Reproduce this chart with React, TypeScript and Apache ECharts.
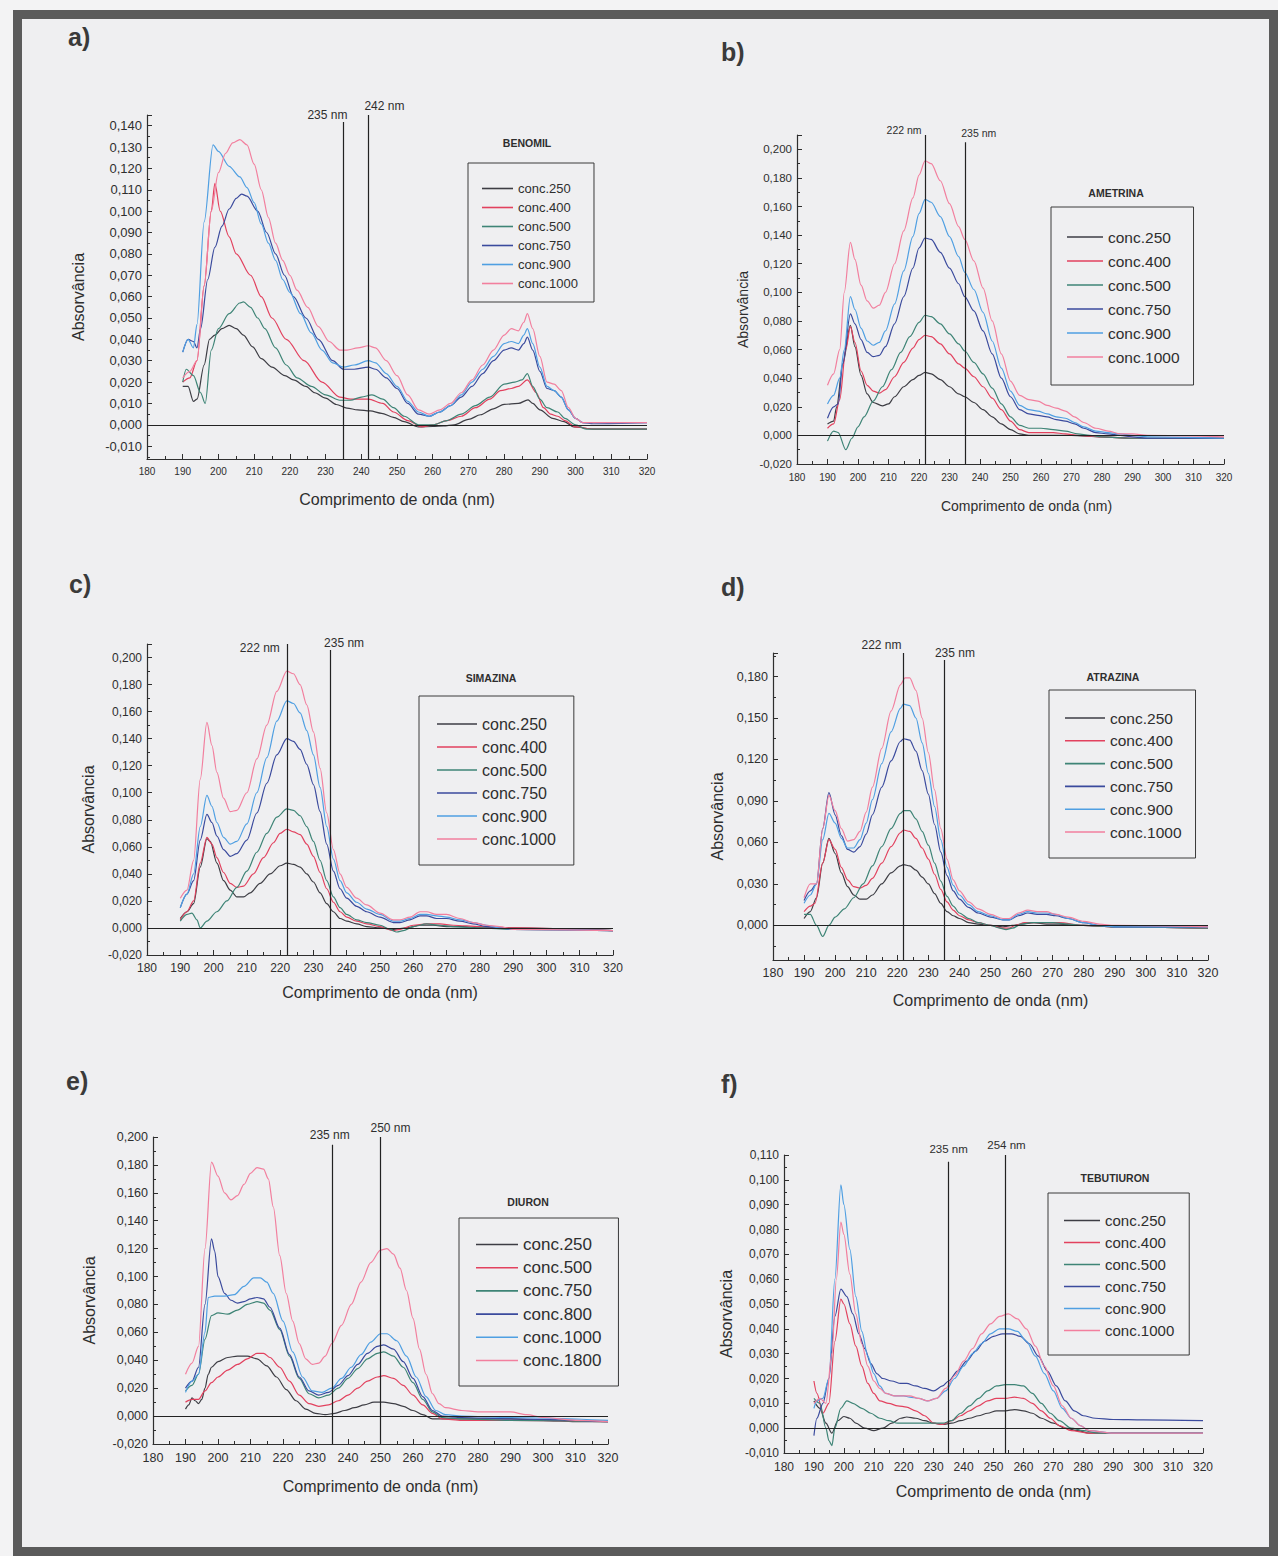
import React, { useEffect, useRef } from 'react';
import * as echarts from 'echarts';

// ---------------- DATA ----------------
const CONC_STD = ['conc.250', 'conc.400', 'conc.500', 'conc.750', 'conc.900', 'conc.1000'];
const CONC_DIURON = ['conc.250', 'conc.500', 'conc.750', 'conc.800', 'conc.1000', 'conc.1800'];
const X_RANGE = [180, 320];
const X_STEP = 10;

// a) BENOMIL
const benomil250 = [[190,0.018],[191.5,0.018],[193,0.011],[194,0.012],[196,0.028],[197.5,0.040],[199,0.042],[201,0.045],[203,0.0465],[205,0.045],[207,0.042],[209.6,0.0365],[212,0.031],[215,0.027],[218.6,0.023],[221,0.021],[224.5,0.018],[227,0.015],[230,0.0125],[233,0.0095],[236,0.0078],[239,0.007],[242.5,0.0065],[245.7,0.0054],[249,0.0035],[252,0.0015],[256,-0.001],[260,-0.0008],[263,-0.0005],[266,0],[270,0.0025],[273.4,0.0047],[277,0.0075],[280,0.0096],[284,0.010],[286.7,0.0117],[288,0.010],[290,0.007],[293.6,0.003],[296.8,0.0015],[299.5,-0.001],[305,-0.002],[320,-0.002]];
const benomil400 = [[190,0.020],[192,0.022],[194,0.030],[196,0.065],[198,0.100],[199,0.113],[200.5,0.100],[203,0.088],[205,0.080],[209,0.070],[212,0.060],[215,0.050],[219,0.040],[224,0.030],[229,0.020],[234,0.013],[237,0.012],[242,0.012],[246,0.010],[249,0.006],[253,0.002],[257,-0.001],[260,0],[264,0.002],[268,0.004],[272,0.008],[276,0.012],[279,0.016],[282,0.017],[284,0.018],[286.5,0.021],[289,0.015],[291,0.008],[293,0.005],[295,0.004],[297,0.002],[300,-0.001],[305,-0.002],[320,-0.002]];
const benomil500 = [[190,0.020],[191,0.026],[193,0.023],[195,0.015],[196.3,0.010],[198,0.035],[200,0.045],[203,0.052],[206,0.057],[207,0.0575],[209,0.055],[211,0.050],[213,0.045],[216,0.036],[219,0.028],[222,0.022],[226,0.018],[230,0.014],[234,0.0115],[237,0.0115],[240,0.013],[243,0.014],[246,0.012],[249,0.008],[252,0.004],[256,0],[260,0],[264,0.002],[268,0.005],[272,0.009],[276,0.013],[280,0.019],[283,0.020],[285,0.021],[286.5,0.024],[288,0.018],[290,0.012],[292,0.008],[295,0.006],[297,0.003],[300,0],[303,-0.002],[320,-0.002]];
const benomil750 = [[190,0.034],[191.5,0.040],[193,0.039],[194,0.036],[195,0.045],[197,0.068],[199,0.083],[201,0.093],[203,0.101],[205,0.106],[206.5,0.108],[208,0.107],[211,0.100],[213.5,0.090],[216,0.080],[218.5,0.070],[221,0.060],[224.5,0.050],[228,0.040],[232,0.030],[235,0.026],[238,0.026],[242,0.027],[244,0.026],[247,0.022],[250,0.017],[253,0.010],[256,0.005],[259,0.004],[262,0.006],[265,0.009],[268,0.013],[271,0.018],[274,0.024],[277,0.030],[280,0.035],[282,0.036],[284,0.035],[285.5,0.038],[286.5,0.041],[288,0.035],[290,0.025],[292,0.017],[294,0.016],[296,0.013],[298,0.007],[300,0.003],[302,0.001],[305,0.0005],[320,0.001]];
const benomil900 = [[190,0.034],[191.5,0.040],[193,0.036],[194,0.047],[196,0.095],[198.5,0.131],[200,0.128],[203,0.121],[206,0.116],[208,0.111],[210,0.104],[212,0.094],[214,0.085],[216,0.077],[218,0.068],[220,0.062],[223,0.052],[226,0.043],[229,0.035],[232,0.029],[235,0.027],[238,0.028],[242,0.030],[244,0.029],[247,0.024],[250,0.018],[253,0.011],[256,0.006],[259,0.004],[262,0.006],[265,0.009],[268,0.014],[271,0.020],[274,0.026],[277,0.032],[280,0.038],[282,0.039],[284,0.038],[285.5,0.042],[286.5,0.045],[288,0.038],[290,0.027],[292,0.018],[294,0.016],[296,0.013],[298,0.007],[300,0.003],[302,0.001],[320,0.001]];
const benomil1000 = [[190,0.022],[192,0.025],[194,0.030],[196,0.065],[198,0.100],[200,0.118],[202,0.127],[204,0.132],[206,0.1335],[208,0.131],[210,0.122],[212,0.110],[214,0.097],[216,0.085],[218,0.077],[220,0.070],[222,0.063],[225,0.055],[228,0.046],[231,0.039],[234,0.035],[236,0.035],[239,0.036],[242,0.037],[244,0.036],[247,0.030],[250,0.023],[253,0.014],[256,0.007],[259,0.005],[262,0.007],[265,0.010],[268,0.015],[271,0.021],[274,0.028],[277,0.035],[280,0.042],[282,0.045],[284,0.044],[285.5,0.048],[286.5,0.052],[288,0.045],[290,0.032],[292,0.020],[294,0.019],[296,0.016],[298,0.008],[300,0.003],[302,0.001],[320,0.001]];
const benomilMarkers = [235, 242];

// b) AMETRINA
const ametrina250 = [[190,0.008],[192,0.010],[193,0.020],[195,0.050],[197.5,0.077],[199,0.062],[201,0.042],[203,0.029],[205,0.023],[208,0.0207],[210,0.022],[212,0.027],[215,0.034],[218,0.039],[220,0.042],[222,0.044],[224,0.043],[227,0.039],[230,0.034],[233,0.029],[235,0.027],[238,0.023],[241,0.018],[244,0.013],[247,0.008],[250,0.004],[253,0.001],[256,0],[262,0],[270,0],[280,-0.001],[290,-0.002],[320,-0.002]];
const ametrina400 = [[190,0.005],[192,0.008],[194,0.025],[196,0.060],[197.5,0.076],[199,0.065],[201,0.045],[203,0.035],[205,0.031],[207,0.0295],[209,0.032],[212,0.041],[215,0.051],[218,0.061],[220,0.067],[222,0.070],[224,0.069],[227,0.064],[230,0.057],[233,0.050],[235,0.047],[238,0.041],[241,0.034],[244,0.026],[247,0.018],[250,0.010],[253,0.004],[256,0.002],[264,0.002],[268,0.001],[272,0],[280,-0.001],[290,-0.002],[320,-0.002]];
const ametrina500 = [[190,-0.004],[192,0.003],[193.5,0.002],[196,-0.010],[198,-0.002],[200,0.006],[202,0.013],[205,0.024],[208,0.034],[211,0.046],[214,0.058],[217,0.069],[220,0.079],[222,0.084],[224,0.083],[227,0.078],[230,0.071],[233,0.064],[235,0.059],[238,0.051],[241,0.043],[244,0.033],[247,0.022],[250,0.013],[253,0.007],[256,0.005],[260,0.005],[264,0.004],[268,0.003],[272,0.001],[276,0],[280,-0.001],[290,-0.002],[320,-0.002]];
const ametrina750 = [[190,0.012],[192,0.020],[193.5,0.022],[195,0.050],[197.5,0.085],[199,0.078],[201,0.067],[203,0.058],[205,0.055],[207,0.056],[209,0.062],[212,0.078],[215,0.097],[218,0.117],[220,0.131],[222,0.138],[224,0.137],[227,0.128],[230,0.117],[233,0.106],[235,0.097],[238,0.087],[241,0.073],[244,0.057],[247,0.040],[250,0.027],[253,0.018],[256,0.015],[259,0.014],[262,0.013],[265,0.011],[268,0.010],[271,0.008],[274,0.005],[278,0.002],[282,0.001],[286,0],[290,-0.001],[295,-0.002],[320,-0.002]];
const ametrina900 = [[190,0.022],[192,0.028],[194,0.040],[195.5,0.060],[197.5,0.097],[199,0.088],[201,0.075],[203,0.066],[205,0.063],[207,0.065],[209,0.073],[212,0.092],[215,0.115],[218,0.139],[220,0.155],[222,0.165],[224,0.163],[227,0.153],[230,0.139],[233,0.125],[235,0.114],[238,0.102],[241,0.086],[244,0.066],[247,0.047],[250,0.031],[253,0.021],[256,0.018],[259,0.017],[262,0.015],[265,0.013],[268,0.012],[271,0.009],[274,0.006],[278,0.003],[282,0.002],[286,0.001],[290,0],[295,-0.001],[320,-0.002]];
const ametrina1000 = [[190,0.035],[192,0.043],[194,0.060],[195.5,0.100],[197.5,0.135],[199,0.123],[201,0.105],[203,0.094],[205,0.089],[207,0.091],[209,0.100],[212,0.120],[215,0.143],[218,0.166],[220,0.182],[222,0.192],[224,0.190],[227,0.178],[230,0.162],[233,0.146],[235,0.137],[238,0.122],[241,0.103],[244,0.080],[247,0.057],[250,0.038],[253,0.028],[256,0.025],[259,0.024],[262,0.021],[265,0.019],[268,0.017],[271,0.013],[274,0.009],[278,0.005],[282,0.003],[286,0.001],[290,0.001],[295,0],[320,-0.001]];
const ametrinaMarkers = [222, 235];

// c) SIMAZINA
const simazina250 = [[190,0.007],[192,0.012],[194,0.018],[196,0.045],[198,0.066],[199,0.064],[201,0.048],[203,0.035],[205,0.028],[207,0.023],[209,0.023],[211,0.026],[214,0.033],[217,0.040],[220,0.046],[222,0.048],[224,0.047],[226,0.045],[228,0.040],[230,0.034],[232,0.026],[234,0.018],[236,0.012],[238,0.007],[240,0.005],[243,0.003],[246,0.001],[250,0],[254,-0.001],[258,0],[262,0.002],[266,0.002],[270,0.001],[275,0.001],[280,0],[290,0],[320,-0.002]];
const simazina400 = [[190,0.006],[192,0.012],[194,0.020],[196,0.048],[198,0.067],[199.5,0.062],[201,0.052],[203,0.041],[205,0.033],[207,0.030],[209,0.031],[212,0.040],[215,0.052],[218,0.063],[220,0.070],[222,0.073],[224,0.071],[226,0.069],[228,0.062],[230,0.053],[232,0.041],[234,0.029],[236,0.019],[238,0.012],[240,0.008],[243,0.005],[246,0.003],[250,0.001],[254,-0.002],[256,-0.001],[260,0.002],[264,0.003],[268,0.003],[272,0.002],[280,0.001],[290,0],[320,-0.002]];
const simazina500 = [[190,0.005],[192,0.010],[193.5,0.011],[195,0.006],[196,0],[198,0.005],[201,0.012],[204,0.020],[207,0.030],[210,0.042],[213,0.056],[216,0.070],[219,0.082],[222,0.088],[224,0.087],[226,0.083],[228,0.075],[230,0.064],[232,0.050],[234,0.035],[236,0.023],[238,0.015],[240,0.010],[243,0.006],[246,0.004],[250,0.002],[253,-0.001],[255,-0.003],[257,-0.002],[260,0.001],[264,0.003],[268,0.002],[272,0.001],[280,0],[290,-0.001],[320,-0.002]];
const simazina750 = [[190,0.015],[192,0.025],[194,0.035],[196,0.065],[198,0.084],[199.5,0.078],[201,0.068],[203,0.058],[205,0.053],[207,0.055],[210,0.065],[213,0.085],[216,0.107],[219,0.128],[222,0.140],[224,0.138],[226,0.132],[228,0.121],[230,0.106],[232,0.086],[234,0.062],[236,0.042],[238,0.029],[240,0.022],[243,0.016],[246,0.012],[250,0.008],[254,0.004],[256,0.004],[259,0.006],[262,0.009],[264,0.009],[267,0.007],[270,0.007],[274,0.005],[278,0.003],[282,0.001],[286,0],[290,-0.001],[320,-0.002]];
const simazina900 = [[190,0.015],[192,0.025],[194,0.040],[196,0.075],[198,0.098],[199.5,0.090],[201,0.078],[203,0.067],[205,0.062],[207,0.064],[210,0.077],[213,0.100],[216,0.126],[219,0.153],[222,0.168],[224,0.166],[226,0.159],[228,0.146],[230,0.128],[232,0.104],[234,0.075],[236,0.051],[238,0.035],[240,0.026],[243,0.019],[246,0.014],[250,0.010],[254,0.005],[256,0.005],[259,0.007],[262,0.010],[264,0.010],[267,0.009],[270,0.008],[274,0.006],[278,0.004],[282,0.002],[286,0],[290,-0.001],[320,-0.002]];
const simazina1000 = [[190,0.022],[192,0.028],[194,0.050],[196,0.110],[198,0.152],[199.5,0.135],[201,0.115],[203,0.096],[205,0.086],[207,0.087],[210,0.100],[213,0.125],[216,0.150],[219,0.175],[222,0.190],[224,0.188],[226,0.180],[228,0.165],[230,0.145],[232,0.118],[234,0.085],[236,0.058],[238,0.040],[240,0.030],[243,0.022],[246,0.017],[250,0.011],[254,0.006],[256,0.006],[259,0.008],[262,0.012],[264,0.012],[267,0.010],[270,0.010],[274,0.007],[278,0.004],[282,0.002],[286,0.001],[290,-0.001],[320,-0.002]];
const simazinaMarkers = [222, 235];

// d) ATRAZINA
const atrazina250 = [[190,0.005],[192,0.010],[194,0.020],[196,0.045],[198,0.063],[200,0.052],[202,0.038],[204,0.028],[206,0.022],[208,0.019],[210,0.019],[212,0.022],[215,0.030],[218,0.038],[221,0.043],[222,0.044],[224,0.043],[226,0.040],[228,0.035],[230,0.030],[232,0.023],[234,0.016],[236,0.010],[238,0.007],[240,0.005],[243,0.002],[246,0.001],[250,0],[254,-0.001],[257,0],[260,0.001],[264,0.002],[268,0.001],[272,0.001],[280,0],[290,-0.001],[320,-0.002]];
const atrazina400 = [[190,0.010],[192,0.014],[193.5,0.016],[196,0.045],[198,0.062],[200,0.055],[202,0.042],[204,0.033],[206,0.028],[208,0.027],[210,0.029],[212,0.034],[215,0.045],[218,0.057],[221,0.067],[222,0.069],[224,0.068],[226,0.063],[228,0.056],[230,0.048],[232,0.037],[234,0.026],[236,0.017],[238,0.011],[240,0.007],[243,0.004],[246,0.002],[250,0],[254,-0.002],[256,-0.002],[258,0],[261,0.002],[264,0.002],[268,0.002],[272,0.002],[280,0],[290,-0.001],[320,-0.002]];
const atrazina500 = [[190,0.008],[192,0.008],[194,0],[196,-0.008],[198,0],[200,0.006],[203,0.012],[206,0.020],[209,0.030],[212,0.043],[215,0.057],[218,0.070],[221,0.081],[222,0.083],[224,0.083],[226,0.077],[228,0.068],[230,0.058],[232,0.045],[234,0.032],[236,0.021],[238,0.014],[240,0.009],[243,0.005],[246,0.002],[250,0],[253,-0.002],[255,-0.003],[257,-0.002],[260,0.001],[263,0.002],[266,0.002],[270,0.002],[275,0.001],[280,0],[290,-0.001],[320,-0.002]];
const atrazina750 = [[190,0.018],[192,0.025],[194,0.030],[196,0.070],[198,0.096],[200,0.080],[202,0.065],[204,0.055],[206,0.053],[208,0.057],[210,0.066],[212,0.080],[215,0.100],[218,0.119],[221,0.133],[222,0.135],[224,0.134],[226,0.126],[228,0.112],[230,0.095],[232,0.073],[234,0.053],[236,0.036],[238,0.025],[240,0.019],[243,0.013],[246,0.009],[250,0.006],[254,0.004],[256,0.004],[259,0.007],[262,0.009],[265,0.008],[268,0.008],[271,0.007],[275,0.005],[280,0.002],[285,0],[290,-0.001],[320,-0.001]];
const atrazina900 = [[190,0.016],[192,0.022],[194,0.030],[196,0.062],[198,0.081],[200,0.074],[202,0.063],[204,0.056],[206,0.056],[208,0.062],[210,0.074],[212,0.091],[215,0.117],[218,0.140],[221,0.157],[222,0.160],[224,0.159],[226,0.150],[228,0.132],[230,0.110],[232,0.086],[234,0.062],[236,0.042],[238,0.029],[240,0.022],[243,0.015],[246,0.010],[250,0.007],[254,0.004],[256,0.004],[259,0.008],[262,0.010],[265,0.009],[268,0.009],[271,0.008],[275,0.005],[280,0.002],[285,0],[290,-0.001],[320,-0.001]];
const atrazina1000 = [[190,0.020],[192,0.030],[194,0.030],[196,0.070],[198,0.094],[200,0.083],[202,0.070],[204,0.061],[206,0.062],[208,0.068],[210,0.082],[212,0.100],[215,0.128],[218,0.155],[221,0.174],[222.5,0.179],[224,0.179],[226,0.170],[228,0.150],[230,0.125],[232,0.098],[234,0.070],[236,0.048],[238,0.033],[240,0.025],[243,0.017],[246,0.012],[250,0.008],[254,0.005],[256,0.005],[259,0.009],[262,0.011],[265,0.010],[268,0.010],[271,0.008],[275,0.006],[280,0.003],[285,0.001],[290,0],[320,-0.001]];
const atrazinaMarkers = [222, 235];

// e) DIURON
const diuron250 = [[190,0.005],[191,0.008],[192,0.013],[193,0.011],[194,0.009],[195,0.012],[196,0.020],[197,0.030],[198,0.035],[200,0.039],[203,0.042],[206,0.043],[209,0.043],[212,0.041],[215,0.036],[218,0.028],[221,0.019],[224,0.011],[227,0.005],[230,0.002],[233,0.001],[236,0.002],[239,0.004],[242,0.006],[245,0.008],[248,0.010],[251,0.010],[254,0.009],[257,0.007],[260,0.004],[263,0.001],[266,-0.002],[270,-0.002],[290,-0.002],[300,-0.003],[310,-0.004],[320,-0.004]];
const diuron500 = [[190,0.010],[192,0.012],[194,0.012],[196,0.018],[198,0.024],[200,0.028],[203,0.033],[206,0.037],[209,0.041],[212,0.045],[214,0.045],[216,0.042],[219,0.035],[222,0.025],[225,0.015],[228,0.009],[231,0.007],[234,0.008],[237,0.011],[240,0.015],[243,0.020],[246,0.025],[249,0.028],[251,0.029],[254,0.027],[257,0.022],[260,0.015],[263,0.008],[266,0.002],[269,-0.002],[275,-0.003],[290,-0.003],[320,-0.004]];
const diuron750 = [[190,0.018],[192,0.022],[194,0.030],[196,0.055],[198,0.072],[200,0.074],[203,0.073],[206,0.076],[209,0.080],[212,0.082],[214,0.081],[216,0.076],[219,0.062],[222,0.043],[225,0.027],[228,0.016],[231,0.013],[234,0.015],[237,0.020],[240,0.027],[243,0.034],[246,0.041],[249,0.045],[251,0.046],[254,0.043],[257,0.035],[260,0.024],[263,0.012],[266,0.003],[269,-0.001],[275,-0.002],[290,-0.003],[320,-0.004]];
const diuron800 = [[190,0.020],[192,0.025],[194,0.035],[196,0.080],[198,0.127],[199,0.118],[200,0.100],[202,0.088],[204,0.083],[206,0.081],[208,0.082],[210,0.084],[212,0.085],[214,0.084],[216,0.078],[219,0.063],[222,0.044],[225,0.028],[228,0.018],[231,0.015],[234,0.017],[237,0.022],[240,0.029],[243,0.037],[246,0.045],[249,0.050],[251,0.051],[254,0.048],[257,0.039],[260,0.027],[263,0.014],[266,0.004],[269,0],[275,-0.001],[290,-0.002],[320,-0.004]];
const diuron1000 = [[190,0.017],[192,0.025],[194,0.030],[196,0.060],[197,0.085],[199,0.086],[202,0.086],[205,0.087],[208,0.093],[211,0.099],[213,0.099],[215,0.096],[217,0.088],[220,0.068],[223,0.046],[226,0.028],[229,0.018],[232,0.017],[235,0.020],[238,0.027],[241,0.035],[244,0.044],[247,0.053],[250,0.059],[252,0.059],[255,0.054],[258,0.043],[261,0.028],[264,0.014],[267,0.004],[270,0.001],[275,0],[290,-0.001],[320,-0.003]];
const diuron1800 = [[190,0.030],[192,0.038],[194,0.050],[196,0.120],[198,0.182],[200,0.172],[202,0.160],[204,0.155],[206,0.158],[208,0.166],[210,0.174],[212,0.178],[214,0.177],[215.5,0.170],[217,0.150],[219,0.115],[221,0.088],[223,0.068],[225,0.052],[227,0.041],[229,0.037],[231,0.038],[233,0.043],[235,0.052],[238,0.065],[241,0.080],[244,0.096],[247,0.110],[250,0.119],[252,0.120],[254,0.116],[256,0.106],[258,0.090],[260,0.070],[262,0.048],[264,0.030],[266,0.016],[268,0.009],[270,0.006],[275,0.004],[280,0.003],[290,0.003],[295,0.001],[300,-0.001],[310,-0.003],[320,-0.004]];
const diuronMarkers = [235, 250];

// f) TEBUTIURON
const tebutiuron250 = [[190,0.011],[192,0.008],[194,0.002],[196,-0.002],[198,0.003],[200,0.0047],[202,0.004],[204,0.002],[207,0],[210,-0.001],[213,0],[216,0.002],[219,0.004],[221,0.0045],[224,0.004],[227,0.003],[230,0.002],[233,0.0015],[236,0.002],[239,0.003],[242,0.004],[245,0.005],[248,0.006],[251,0.007],[254,0.007],[257,0.0075],[260,0.007],[263,0.006],[266,0.004],[270,0.002],[274,0],[278,-0.001],[282,-0.002],[320,-0.002]];
const tebutiuron400 = [[190,0.019],[191,0.014],[193,0.006],[195,0.010],[197,0.035],[199,0.052],[200,0.050],[202,0.042],[204,0.033],[206,0.025],[208,0.018],[210,0.014],[212,0.011],[215,0.010],[218,0.009],[221,0.0085],[224,0.007],[227,0.005],[230,0.002],[233,0.0015],[236,0.003],[239,0.005],[242,0.007],[245,0.009],[248,0.011],[251,0.012],[254,0.012],[257,0.0125],[260,0.012],[263,0.010],[266,0.007],[269,0.004],[272,0.001],[276,-0.001],[282,-0.002],[320,-0.002]];
const tebutiuron500 = [[190,0.012],[192,0.010],[194,0],[195,-0.005],[196,-0.007],[197,0],[199,0.008],[201,0.011],[203,0.010],[206,0.008],[209,0.006],[212,0.004],[215,0.003],[218,0.002],[224,0.002],[230,0.002],[233,0.002],[236,0.003],[239,0.006],[242,0.009],[245,0.012],[248,0.015],[251,0.017],[254,0.0175],[257,0.0175],[260,0.017],[263,0.014],[266,0.010],[269,0.006],[272,0.003],[276,0],[280,-0.001],[285,-0.002],[320,-0.002]];
const tebutiuron750 = [[190,-0.003],[191,0.004],[193,0.010],[195,0.020],[197,0.045],[199,0.056],[201,0.053],[203,0.046],[205,0.038],[207,0.032],[209,0.026],[211,0.022],[213,0.020],[216,0.019],[219,0.018],[221,0.018],[224,0.017],[227,0.016],[230,0.015],[233,0.017],[235,0.019],[238,0.023],[241,0.027],[244,0.031],[247,0.035],[250,0.037],[253,0.038],[256,0.038],[259,0.037],[262,0.034],[265,0.029],[268,0.023],[271,0.017],[274,0.011],[277,0.007],[280,0.005],[284,0.004],[290,0.0035],[300,0.0033],[320,0.003]];
const tebutiuron900 = [[190,0.008],[191,0.011],[193,0.012],[195,0.020],[197,0.060],[199,0.098],[200,0.090],[202,0.072],[204,0.053],[206,0.039],[208,0.029],[210,0.022],[212,0.017],[214,0.014],[217,0.013],[220,0.013],[222,0.0125],[225,0.012],[228,0.011],[231,0.012],[234,0.015],[237,0.020],[240,0.025],[243,0.030],[246,0.034],[249,0.038],[252,0.040],[255,0.040],[258,0.039],[261,0.035],[264,0.029],[267,0.022],[270,0.015],[273,0.008],[276,0.004],[279,0.001],[282,-0.001],[290,-0.002],[320,-0.002]];
const tebutiuron1000 = [[190,0.010],[192,0.012],[194,0.010],[196,0.030],[197.5,0.060],[199,0.083],[200,0.078],[202,0.062],[204,0.046],[206,0.034],[208,0.025],[210,0.019],[212,0.016],[214,0.014],[217,0.013],[222,0.013],[225,0.012],[228,0.011],[231,0.012],[234,0.016],[237,0.021],[240,0.027],[243,0.032],[246,0.038],[249,0.042],[252,0.045],[255,0.046],[258,0.044],[261,0.040],[264,0.033],[267,0.025],[270,0.017],[273,0.009],[276,0.004],[279,0.001],[282,-0.001],[290,-0.002],[320,-0.002]];
const tebutiuronMarkers = [235, 254];

// ---------------- STYLE ----------------
const FONT = '"Liberation Sans", Arial, Helvetica, sans-serif';
const INK = '#2e2e2e';
const COLORS = ['#3d3d44', '#e2415e', '#3e8476', '#3a4a9d', '#4f9fe2', '#f27f9e'];

type Panel = {
  letter: string; letterPos: [number, number];
  title: string; titlePos: [number, number];
  names: string[]; series: number[][][];
  markers: number[]; markerTops: number[]; markerOffsets: [number, number][]; markerFont: number;
  grid: { left: number; top: number; width: number; height: number };
  yMin: number; yMax: number; yStep: number; useInterval: boolean; splitNumber?: number;
  xFont: number; yFont: number; xMargin: number; yMargin: number;
  nameFont: number; xNameGap: number; yNameGap: number; xNamePad?: number[];
  legend: { left: number; top: number; padding: number[]; itemWidth: number; itemGap: number; fontSize: number };
};

const PANELS: Panel[] = [
  {
    letter: 'a)', letterPos: [68, 37], title: 'BENOMIL', titlePos: [527, 143],
    names: CONC_STD, series: [benomil250, benomil400, benomil500, benomil750, benomil900, benomil1000],
    markers: benomilMarkers, markerTops: [0.1417, 0.145], markerOffsets: [[-16, -7], [16, -9]], markerFont: 12,
    grid: { left: 147, top: 115, width: 500, height: 344 },
    yMin: -0.016, yMax: 0.145, yStep: 0.01, useInterval: false, splitNumber: 16,
    xFont: 10, yFont: 13, xMargin: 7, yMargin: 5,
    nameFont: 16, xNameGap: 32, yNameGap: 61,
    legend: { left: 468, top: 163, padding: [19, 16, 12, 14], itemWidth: 31, itemGap: 6, fontSize: 13 },
  },
  {
    letter: 'b)', letterPos: [721, 52], title: 'AMETRINA', titlePos: [1116, 193],
    names: CONC_STD, series: [ametrina250, ametrina400, ametrina500, ametrina750, ametrina900, ametrina1000],
    markers: ametrinaMarkers, markerTops: [0.21, 0.205], markerOffsets: [[-21, -5], [14, -9]], markerFont: 10.5,
    grid: { left: 797, top: 135, width: 427, height: 329 },
    yMin: -0.02, yMax: 0.21, yStep: 0.02, useInterval: true,
    xFont: 10, yFont: 11.5, xMargin: 8, yMargin: 5,
    nameFont: 14, xNameGap: 35, yNameGap: 47, xNamePad: [0, 0, 0, 32],
    legend: { left: 1051, top: 207, padding: [22, 14, 20, 16], itemWidth: 36, itemGap: 8, fontSize: 15.5 },
  },
  {
    letter: 'c)', letterPos: [69, 584], title: 'SIMAZINA', titlePos: [491, 678],
    names: CONC_STD, series: [simazina250, simazina400, simazina500, simazina750, simazina900, simazina1000],
    markers: simazinaMarkers, markerTops: [0.21, 0.2055], markerOffsets: [[-27, 4], [14, -7]], markerFont: 12,
    grid: { left: 147, top: 644, width: 466, height: 311 },
    yMin: -0.02, yMax: 0.21, yStep: 0.02, useInterval: true,
    xFont: 12, yFont: 12, xMargin: 7, yMargin: 5,
    nameFont: 16, xNameGap: 29, yNameGap: 51,
    legend: { left: 419, top: 696, padding: [20, 18, 18, 18], itemWidth: 40, itemGap: 7, fontSize: 16 },
  },
  {
    letter: 'd)', letterPos: [721, 587], title: 'ATRAZINA', titlePos: [1113, 677],
    names: CONC_STD, series: [atrazina250, atrazina400, atrazina500, atrazina750, atrazina900, atrazina1000],
    markers: atrazinaMarkers, markerTops: [0.197, 0.192], markerOffsets: [[-22, -8], [11, -7]], markerFont: 12,
    grid: { left: 773, top: 653, width: 435, height: 307 },
    yMin: -0.025, yMax: 0.197, yStep: 0.03, useInterval: false, splitNumber: 7,
    xFont: 12.5, yFont: 12.5, xMargin: 6, yMargin: 5,
    nameFont: 16, xNameGap: 32, yNameGap: 48,
    legend: { left: 1049, top: 690, padding: [20, 14, 18, 16], itemWidth: 40, itemGap: 6.8, fontSize: 15.5 },
  },
  {
    letter: 'e)', letterPos: [66, 1081], title: 'DIURON', titlePos: [528, 1202],
    names: CONC_DIURON, series: [diuron250, diuron500, diuron750, diuron800, diuron1000, diuron1800],
    markers: diuronMarkers, markerTops: [0.1945, 0.2], markerOffsets: [[-2, -10], [10, -9]], markerFont: 12,
    grid: { left: 153, top: 1137, width: 455, height: 307 },
    yMin: -0.02, yMax: 0.2, yStep: 0.02, useInterval: true,
    xFont: 12.5, yFont: 12.5, xMargin: 7, yMargin: 5,
    nameFont: 16, xNameGap: 34, yNameGap: 56,
    legend: { left: 459, top: 1218, padding: [18, 17, 17, 17], itemWidth: 42, itemGap: 6.2, fontSize: 17 },
  },
  {
    letter: 'f)', letterPos: [721, 1084], title: 'TEBUTIURON', titlePos: [1115, 1178],
    names: CONC_STD, series: [tebutiuron250, tebutiuron400, tebutiuron500, tebutiuron750, tebutiuron900, tebutiuron1000],
    markers: tebutiuronMarkers, markerTops: [0.1073, 0.11], markerOffsets: [[0, -13], [1, -10]], markerFont: 11.5,
    grid: { left: 784, top: 1155, width: 419, height: 298 },
    yMin: -0.01, yMax: 0.11, yStep: 0.01, useInterval: true,
    xFont: 12, yFont: 12, xMargin: 8, yMargin: 5,
    nameFont: 16, xNameGap: 30, yNameGap: 50,
    legend: { left: 1048, top: 1193, padding: [20, 15, 17, 16], itemWidth: 36, itemGap: 7, fontSize: 15 },
  },
];

function buildOption(p: Panel) {
  const yLabel = (v: number) => {
    const k = v / p.yStep;
    if (Math.abs(k - Math.round(k)) > 1e-6) return '';
    const r = Math.round(k) * p.yStep;
    return (Math.abs(r) < 1e-9 ? 0 : r).toFixed(3).replace('.', ',');
  };
  const axisLine = { show: true, onZero: false, lineStyle: { color: INK, width: 1.2 } };
  const axisTick = { show: true, inside: true, length: 5, lineStyle: { color: INK, width: 1 } };
  const minorTick = { show: true, splitNumber: 2, length: 3, lineStyle: { color: INK, width: 1 } };

  const yAxis: any = {
    type: 'value', min: p.yMin, max: p.yMax,
    axisLine, axisTick, minorTick, splitLine: { show: false }, minorSplitLine: { show: false },
    axisLabel: { formatter: yLabel, fontSize: p.yFont, fontFamily: FONT, color: INK, margin: p.yMargin },
    name: 'Absorvância', nameLocation: 'middle', nameGap: p.yNameGap, nameRotate: 90,
    nameTextStyle: { fontSize: p.nameFont, fontFamily: FONT, color: INK, padding: [0, 20, 0, 0] },
  };
  if (p.useInterval) yAxis.interval = p.yStep; else yAxis.splitNumber = p.splitNumber;

  const lines: any[] = p.names.map((name, i) => ({
    name, type: 'line', data: p.series[i], symbol: 'none', showSymbol: false,
    smooth: 0.3, smoothMonotone: 'x', clip: false,
    lineStyle: { color: COLORS[i], width: 1.2 }, itemStyle: { color: COLORS[i] },
    emphasis: { disabled: true }, z: 3,
  }));

  lines.push({
    name: '__markers', type: 'line', data: [], symbol: 'none', clip: false, silent: true, z: 2,
    markLine: {
      symbol: 'none', silent: true, animation: false, label: { show: false },
      lineStyle: { color: '#222', width: 1.2, type: 'solid' },
      emphasis: { disabled: true },
      data: [
        { yAxis: 0 },
        ...p.markers.map((m, j) => [{ coord: [m, p.markerTops[j]] }, { coord: [m, p.yMin] }]),
      ],
    },
    markPoint: {
      symbol: 'rect', symbolSize: 1, silent: true, animation: false,
      itemStyle: { color: 'rgba(0,0,0,0)' },
      label: { show: true, position: 'inside', color: INK, fontSize: p.markerFont, fontFamily: FONT },
      data: p.markers.map((m, j) => ({
        coord: [m, p.markerTops[j]],
        label: { formatter: `${m} nm`, offset: p.markerOffsets[j] },
      })),
    },
  });

  return {
    animation: false,
    textStyle: { fontFamily: FONT },
    grid: { ...p.grid, containLabel: false },
    xAxis: {
      type: 'value', min: X_RANGE[0], max: X_RANGE[1], interval: X_STEP,
      axisLine, axisTick, minorTick, splitLine: { show: false }, minorSplitLine: { show: false },
      axisLabel: { fontSize: p.xFont, fontFamily: FONT, color: INK, margin: p.xMargin },
      name: 'Comprimento de onda (nm)', nameLocation: 'middle', nameGap: p.xNameGap,
      nameTextStyle: { fontSize: p.nameFont, fontFamily: FONT, color: INK, padding: p.xNamePad || 0 },
    },
    yAxis,
    legend: {
      data: p.names.map((n) => ({ name: n, icon: 'rect' })),
      orient: 'vertical', left: p.legend.left, top: p.legend.top,
      padding: p.legend.padding, itemWidth: p.legend.itemWidth, itemHeight: 1.6,
      itemGap: p.legend.itemGap, borderColor: '#3a3a3a', borderWidth: 1, selectedMode: false,
      textStyle: { fontSize: p.legend.fontSize, fontFamily: FONT, color: INK },
    },
    graphic: [
      {
        type: 'text', x: p.letterPos[0], y: p.letterPos[1], silent: true,
        style: { text: p.letter, fontSize: 25, fontWeight: 'bold', fontFamily: FONT, fill: '#3a3a3a', align: 'left', verticalAlign: 'middle' },
      },
      {
        type: 'text', x: p.titlePos[0], y: p.titlePos[1], silent: true,
        style: { text: p.title, fontSize: 10.5, fontWeight: 'bold', fontFamily: FONT, fill: INK, align: 'center', verticalAlign: 'middle' },
      },
    ],
    series: lines,
  };
}

function ChartPanel({ panel }: { panel: Panel }) {
  const ref = useRef<HTMLDivElement>(null);
  useEffect(() => {
    if (!ref.current) return;
    const chart = echarts.init(ref.current, undefined, { renderer: 'svg' });
    chart.setOption(buildOption(panel) as any);
    return () => chart.dispose();
  }, [panel]);
  return <div ref={ref} style={{ position: 'absolute', left: 0, top: 0, width: 1278, height: 1556 }} />;
}

export default function App() {
  return (
    <div style={{ position: 'absolute', left: 0, top: 0, width: 1278, height: 1556, background: '#f3f3f4', overflow: 'hidden' }}>
      <div style={{ position: 'absolute', left: 13, top: 10, width: 1265, height: 1546, boxSizing: 'border-box', border: '9px solid #5b5b5b', background: '#efeff1' }} />
      {PANELS.map((p) => (
        <ChartPanel key={p.letter} panel={p} />
      ))}
    </div>
  );
}
